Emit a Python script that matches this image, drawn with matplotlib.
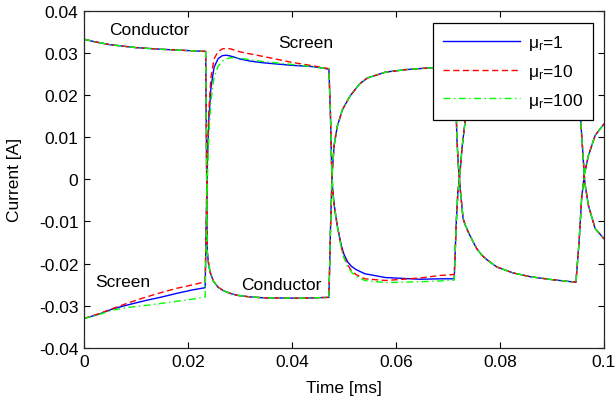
import matplotlib
matplotlib.use("Agg")
import matplotlib.pyplot as plt
from matplotlib.ticker import FuncFormatter

plt.rcParams['font.family'] = ['Liberation Sans', 'DejaVu Sans']
plt.rcParams['mathtext.fontset'] = 'custom'
plt.rcParams['mathtext.rm'] = 'Liberation Sans'
plt.rcParams['mathtext.it'] = 'Liberation Sans'

# ---------------- data ----------------
series_labels = ['μ$_{\\mathregular{r}}$=1', 'μ$_{\\mathregular{r}}$=10', 'μ$_{\\mathregular{r}}$=100']

# conductor current (same for all three μr)
cond_t = [0, 0.002, 0.005, 0.010, 0.015, 0.020, 0.0234,
          0.0237, 0.0240, 0.0243, 0.0249, 0.0258, 0.0268, 0.0280, 0.0294, 0.0320, 0.0345, 0.0415, 0.0471,
          0.0474, 0.0477, 0.0481, 0.0487, 0.0497, 0.0512, 0.0530, 0.0545, 0.0580, 0.0620, 0.0665, 0.0712,
          0.0715, 0.0717, 0.0720, 0.0724, 0.0729, 0.0733, 0.0740, 0.0747, 0.0755, 0.0765, 0.0775, 0.0794,
          0.0825, 0.0858, 0.0900, 0.0946,
          0.0952, 0.0957, 0.0962, 0.0970, 0.0983, 0.1000]
cond_i = [0.0332, 0.0326, 0.0319, 0.0312, 0.0308, 0.0305, 0.0303,
          -0.0171, -0.0205, -0.0222, -0.0242, -0.0256, -0.0264, -0.0270, -0.0275, -0.0279, -0.0281, -0.0282, -0.0280,
          -0.0120, 0.0010, 0.0080, 0.0125, 0.0165, 0.0198, 0.0226, 0.0240, 0.0254, 0.0260, 0.0264, 0.0265,
          0.0200, 0.0100, 0.0030, -0.0030, -0.0093, -0.0108, -0.0128, -0.0145, -0.0164, -0.0180, -0.0191, -0.0208,
          -0.0222, -0.0231, -0.0238, -0.0244,
          -0.0150, -0.0045, 0.0010, 0.0056, 0.0104, 0.0131]

# screen current
scr_t = [0, 0.0028, 0.0056, 0.009, 0.012, 0.015, 0.018, 0.021, 0.0233,
         0.0235, 0.0237, 0.0240, 0.0244, 0.0250, 0.0258, 0.0266, 0.0274, 0.0282, 0.0290, 0.0300, 0.0320,
         0.0345, 0.0400, 0.0440, 0.0471,
         0.0474, 0.0476, 0.0478, 0.0481, 0.0487, 0.0495, 0.0500, 0.0507, 0.0514, 0.0523, 0.0540, 0.0580,
         0.0646, 0.0685, 0.0712,
         0.0716, 0.0719, 0.0722, 0.0727, 0.0733, 0.0740, 0.0755, 0.0770, 0.0800, 0.0850, 0.0900, 0.0945,
         0.0950, 0.0955, 0.0960, 0.0963, 0.0970, 0.0983, 0.1000]

scr_mu1 = [-0.0330, -0.0320, -0.0307, -0.0296, -0.0287, -0.0279, -0.0270, -0.0262, -0.0257,
           -0.0110, 0.0030, 0.0140, 0.0215, 0.0265, 0.0286, 0.0293, 0.0294, 0.0292, 0.0289, 0.0285, 0.0280,
           0.0276, 0.0270, 0.0267, 0.0261,
           0.0150, 0.0040, -0.0020, -0.0060, -0.0110, -0.0158, -0.0178, -0.0196, -0.0206, -0.0214, -0.0224, -0.0233,
           -0.0237, -0.0236, -0.0236,
           -0.0100, -0.0030, 0.0000, 0.0075, 0.0138, 0.0170, 0.0205, 0.0225, 0.0243, 0.0256, 0.0261, 0.0263,
           0.0200, 0.0143, 0.0050, -0.0007, -0.0062, -0.0117, -0.0141]

scr_mu10 = [-0.0330, -0.0319, -0.0306, -0.0291, -0.0279, -0.0268, -0.0258, -0.0250, -0.0243,
            -0.0100, 0.0050, 0.0160, 0.0240, 0.0285, 0.0303, 0.0309, 0.0310, 0.0309, 0.0306, 0.0302, 0.0297,
            0.0291, 0.0277, 0.0269, 0.0262,
            0.0150, 0.0040, -0.0020, -0.0060, -0.0110, -0.0162, -0.0184, -0.0203, -0.0216, -0.0226, -0.0236, -0.0240,
            -0.0234, -0.0228, -0.0226,
            -0.0100, -0.0030, 0.0000, 0.0075, 0.0138, 0.0170, 0.0205, 0.0225, 0.0243, 0.0256, 0.0261, 0.0263,
            0.0200, 0.0143, 0.0050, -0.0007, -0.0062, -0.0117, -0.0141]

scr_mu100 = [-0.0330, -0.0321, -0.0310, -0.0303, -0.0299, -0.0294, -0.0289, -0.0284, -0.0279,
             -0.0140, -0.0010, 0.0100, 0.0185, 0.0240, 0.0268, 0.0280, 0.0285, 0.0288, 0.0288, 0.0287, 0.0283,
             0.0279, 0.0272, 0.0267, 0.0261,
             0.0150, 0.0040, -0.0020, -0.0060, -0.0110, -0.0164, -0.0187, -0.0207, -0.0220, -0.0230, -0.0240, -0.0245,
             -0.0243, -0.0241, -0.0239,
             -0.0100, -0.0030, 0.0000, 0.0075, 0.0138, 0.0170, 0.0205, 0.0225, 0.0243, 0.0256, 0.0261, 0.0263,
             0.0200, 0.0143, 0.0050, -0.0007, -0.0062, -0.0117, -0.0141]

x_ticks = [0, 0.02, 0.04, 0.06, 0.08, 0.1]
y_ticks = [-0.04, -0.03, -0.02, -0.01, 0, 0.01, 0.02, 0.03, 0.04]

annotations = [('Conductor', 0.0125, 0.0354), ('Screen', 0.0427, 0.0325),
               ('Screen', 0.0075, -0.0242), ('Conductor', 0.0380, -0.0249)]

# ---------------- plotting ----------------
FS = 12.5
fig = plt.figure(figsize=(6.15, 4.06), dpi=100)
ax = fig.add_axes([84 / 615, 57 / 406, 520 / 615, 337.5 / 406])

styles = [dict(color='#0000ff', linestyle='-'),
          dict(color='#ff0000', linestyle=(0, (4.5, 2.5))),
          dict(color='#00ff00', linestyle=(0, (5, 2.5, 1, 2.5)))]
screens = [scr_mu1, scr_mu10, scr_mu100]

handles = []
for lab, st, scr in zip(series_labels, styles, screens):
    h, = ax.plot(cond_t, cond_i, lw=1.0, label=lab, **st)
    ax.plot(scr_t, scr, lw=1.0, **st)
    handles.append(h)

for txt, tx, ty in annotations:
    ax.text(tx, ty, txt, ha='center', va='center', fontsize=FS)

ax.set_xlim(0, 0.1)
ax.set_ylim(-0.04, 0.04)
ax.set_xticks(x_ticks)
ax.set_yticks(y_ticks)
fmt = FuncFormatter(lambda v, p: '%g' % round(v, 4))
ax.xaxis.set_major_formatter(fmt)
ax.yaxis.set_major_formatter(fmt)
ax.tick_params(direction='in', length=4, width=0.8, top=True, right=True, labelsize=FS, pad=4)
for s in ax.spines.values():
    s.set_linewidth(0.9)
    s.set_color('#262626')

ax.set_xlabel('Time [ms]', fontsize=FS, labelpad=8)
ax.set_ylabel('Current [A]', fontsize=FS, labelpad=12)

leg = ax.legend(handles=handles, loc='upper right', bbox_to_anchor=(0.979, 0.963),
                borderaxespad=0, fancybox=False, framealpha=1, edgecolor='black',
                fontsize=FS, handlelength=4.4, handletextpad=0.45, labelspacing=0.55,
                borderpad=0.6)
leg.get_frame().set_linewidth(0.9)

fig.savefig('out.png', dpi=100)
